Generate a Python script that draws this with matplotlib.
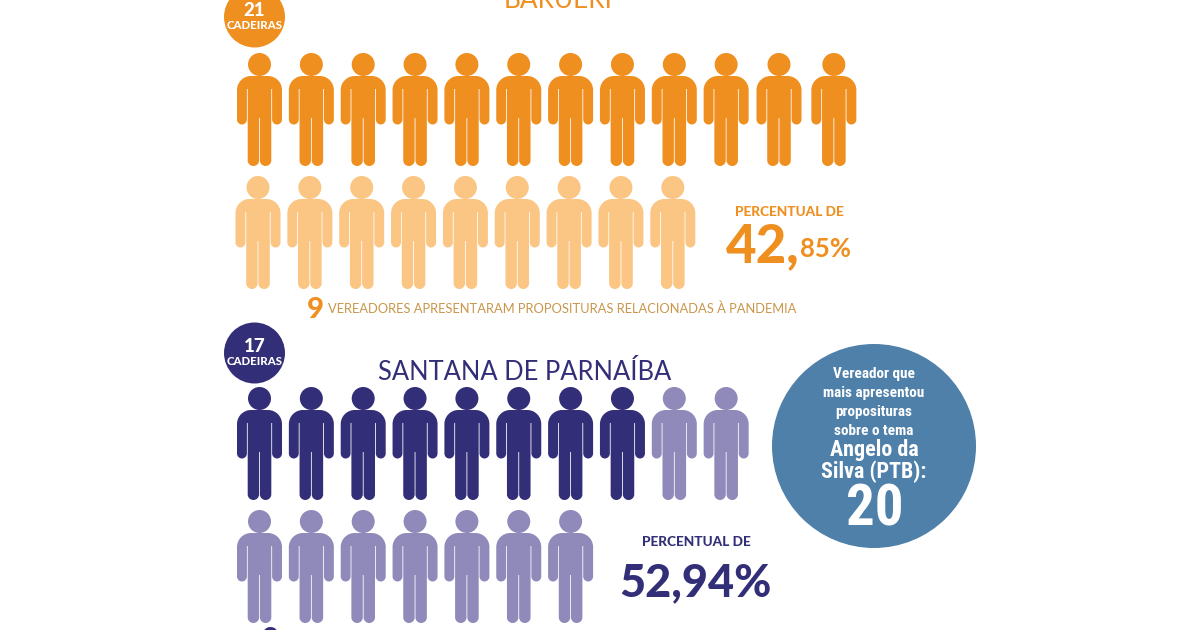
import matplotlib
matplotlib.use("Agg")
import matplotlib.pyplot as plt
from matplotlib.path import Path
from matplotlib.patches import PathPatch, Circle
from matplotlib.transforms import Affine2D

# ---- data ----
cities = ["BARUERI", "SANTANA DE PARNAÍBA"]
seats = [21, 17]
presenting = [9, 9]
percent_labels = ["42,85%", "52,94%"]
seat_word = "CADEIRAS"
pct_heading = "PERCENTUAL DE"
note_count = "9"
note_text = "VEREADORES APRESENTARAM PROPOSITURAS RELACIONADAS À PANDEMIA"
top_name_lines = ["Vereador que", "mais apresentou", "proposituras", "sobre o tema"]
top_name = ["Angelo da", "Silva (PTB):"]
top_count = 20

# ---- style ----
ORANGE, ORANGE_L = "#EF8F1F", "#FBC583"
NAVY, NAVY_L = "#332E78", "#8F8ABA"
BLUE = "#4F80A9"
TAN = "#C9964A"
SANS = "Lato"
NARROW = ["Roboto Condensed", "Open Sans Condensed", "Liberation Sans Narrow", "Roboto"]

fig = plt.figure(figsize=(12, 6.3), dpi=100, facecolor="white")
ax = fig.add_axes([0, 0, 1, 1])
ax.set_xlim(0, 1200)
ax.set_ylim(630, 0)
ax.axis("off")


def person_path():
    K = 0.55
    start = (0.4, 23)
    segs = [
        (None, (8.5, 23)), ((22.5, 23), (22.5, 37)), (None, (22.5, 66.5)),
        ((22.5, 71.5), (17.6, 71.5)), ((12.6, 71.5), (12.6, 66.5)),
        (None, (12.6, 36)), (None, (11.8, 36)), (None, (11.8, 107.5)),
        ((11.8, 113), (6.1, 113)), ((0.4, 113), (0.4, 107.5)), (None, (0.4, 65)),
    ]
    # right side as a list of (ctrl, start, end)
    chain = [start] + [e for _, e in segs]
    pieces = [(c, chain[i], chain[i + 1]) for i, (c, _) in enumerate(segs)]
    mirror = lambda p: (-p[0], p[1])
    # add the mirrored left side, walked backwards
    all_pieces = list(pieces) + [(None, chain[-1], mirror(chain[-1]))]
    for c, a, b in reversed(pieces):
        all_pieces.append((mirror(c) if c else None, mirror(b), mirror(a)))
    pts, codes = [start], [Path.MOVETO]
    for c, a, b in all_pieces:
        if c is None:
            pts.append(b); codes.append(Path.LINETO)
        else:
            c1 = (a[0] + K * (c[0] - a[0]), a[1] + K * (c[1] - a[1]))
            c2 = (b[0] + K * (c[0] - b[0]), b[1] + K * (c[1] - b[1]))
            pts += [c1, c2, b]; codes += [Path.CURVE4] * 3
    pts.append(start); codes.append(Path.CLOSEPOLY)
    body = Path(pts, codes)
    head = Path.circle((0, 11.5), 11.5)
    return Path.make_compound_path(body, head)


ICON = person_path()


def draw_row(start_x, top_y, step, colors, extra=None):
    extra = extra or {}
    for i, col in enumerate(colors):
        x = start_x + i * step + extra.get(i, 0)
        ax.add_patch(PathPatch(ICON, facecolor=col, edgecolor="none",
                               transform=Affine2D().translate(x, top_y) + ax.transData))


# Barueri
n_full = seats[0] - presenting[0]
draw_row(259.5, 53, 51.85, [ORANGE] * n_full, {10: 1, 11: 4})
draw_row(258, 176, 51.85, [ORANGE_L] * presenting[0])

# Santana de Parnaíba: the pale figures continue after the dark ones
n_full = seats[1] - presenting[1]
row_len = 10
first = [NAVY] * n_full + [NAVY_L] * (row_len - n_full)
second = [NAVY_L] * (seats[1] - row_len)
draw_row(259.5, 387, 51.85, first)
draw_row(259.5, 510, 51.85, second)

# seat badges
for cy, col, n, ny, wy in [(17, ORANGE, seats[0], 10, 25.5), (353, NAVY, seats[1], 346, 361.5)]:
    ax.add_patch(Circle((254.5, cy), 30.5, facecolor=col, edgecolor="none"))
    ax.text(254.5, ny, str(n), color="white", fontsize=13.5, family=SANS, weight="black",
            ha="center", va="center")
    ax.text(254.5, wy, seat_word, color="white", fontsize=8.2, family=SANS, weight="black",
            ha="center", va="center")

# city titles
ax.text(558, 1, cities[0], color=ORANGE, fontsize=18.8, family=SANS, ha="center", va="center")
ax.text(525, 372.5, cities[1], color=NAVY, fontsize=18.4, family=SANS, ha="center", va="center")

# percentages
ax.text(789, 212, pct_heading, color=ORANGE, fontsize=9.8, family=SANS, weight="black",
        ha="center", va="center")
whole, frac = percent_labels[0].split(",")
ax.text(726, 262, whole + ",", color=ORANGE, fontsize=38, family=SANS, weight="black",
        ha="left", va="baseline")
ax.text(800, 257, frac, color=ORANGE, fontsize=18.5, family=SANS, weight="bold",
        ha="left", va="baseline")

ax.text(696, 542, pct_heading, color=NAVY, fontsize=9.8, family=SANS, weight="black",
        ha="center", va="center")
ax.text(695, 596, percent_labels[1], color=NAVY, fontsize=32.5, family=SANS, weight="black",
        ha="center", va="baseline")

# note line
ax.text(307, 318, note_count, color=ORANGE, fontsize=21, family=SANS, weight="black",
        ha="left", va="baseline")
ax.text(328, 309, note_text, color=TAN, fontsize=9.25, family=SANS, ha="left", va="center")
# the second note line is cut by the lower image edge
ax.text(262, 648, note_count, color=NAVY, fontsize=21, family=SANS, weight="black",
        ha="left", va="baseline", clip_on=False)

# top-author circle
ax.add_patch(Circle((874, 446), 102, facecolor=BLUE, edgecolor="none"))
for line, y in zip(top_name_lines, [374, 393, 412, 431]):
    ax.text(874, y, line, color="white", fontsize=11, family=NARROW, weight="bold",
            ha="center", va="center")
for line, y in zip(top_name, [450, 472]):
    ax.text(874, y, line, color="white", fontsize=15.8, family=NARROW, weight="bold",
            ha="center", va="center")
ax.text(875, 510, str(top_count), color="white", fontsize=41, family=NARROW, weight="bold",
        ha="center", va="center")

fig.savefig("out.png", dpi=100, facecolor="white")
